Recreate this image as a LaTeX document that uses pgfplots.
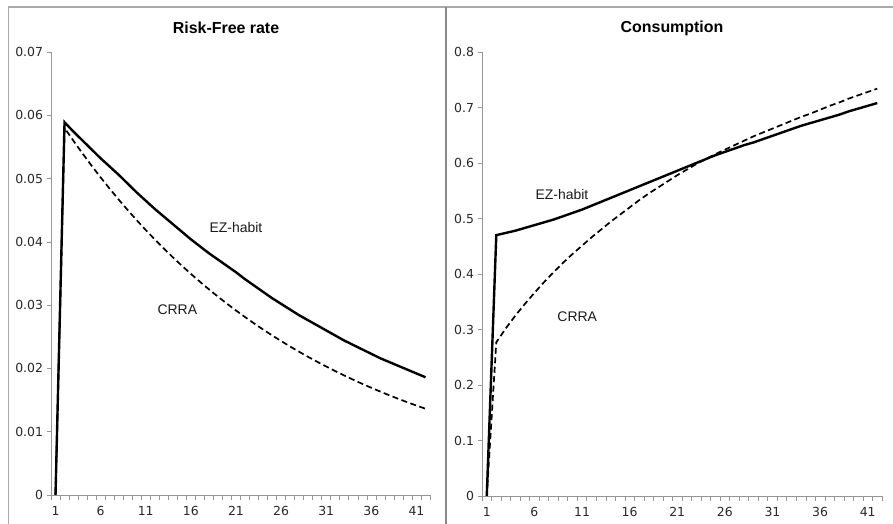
\documentclass[border=0pt]{standalone}
\usepackage{pgfplots}
\pgfplotsset{compat=1.18}
\usepackage{fontspec}
\setmainfont{Liberation Sans}
\newfontfamily\dejavu{DejaVu Sans}
\definecolor{axisgray}{RGB}{150,150,150}
\definecolor{framegray}{RGB}{170,170,170}
\definecolor{ticktext}{RGB}{40,40,40}

\pgfplotstableread{
t ez crra
1 0 0
2 0.0589 0.0580
3 0.0574 0.05594
4 0.0560 0.05395
5 0.0546 0.05203
6 0.0532 0.05018
7 0.0519 0.04840
8 0.0506 0.04668
9 0.0492 0.04502
10 0.0478 0.04342
11 0.0465 0.04187
12 0.0452 0.04038
13 0.0440 0.03895
14 0.0428 0.03756
15 0.0416 0.03623
16 0.0404 0.03494
17 0.0393 0.03370
18 0.0382 0.03250
19 0.0372 0.03134
20 0.0362 0.03023
21 0.0352 0.02915
22 0.0341 0.02812
23 0.0331 0.02712
24 0.0321 0.02615
25 0.0311 0.02522
26 0.0302 0.02433
27 0.0293 0.02346
28 0.0284 0.02263
29 0.0276 0.02182
30 0.0268 0.02105
31 0.0260 0.02030
32 0.0252 0.01958
33 0.0244 0.01888
34 0.0237 0.01821
35 0.0230 0.01756
36 0.0223 0.01694
37 0.0216 0.01633
38 0.0210 0.01575
39 0.0204 0.01519
40 0.0198 0.01465
41 0.0192 0.01413
42 0.0186 0.01363
}\rfdata

\pgfplotstableread{
t ez crra
1 0 0
2 0.470 0.277
3 0.474 0.302
4 0.478 0.325
5 0.483 0.346
6 0.488 0.366
7 0.493 0.385
8 0.498 0.403
9 0.504 0.420
10 0.510 0.436
11 0.516 0.451
12 0.523 0.466
13 0.530 0.480
14 0.537 0.494
15 0.544 0.507
16 0.551 0.520
17 0.558 0.533
18 0.565 0.545
19 0.572 0.556
20 0.579 0.567
21 0.586 0.578
22 0.593 0.588
23 0.600 0.598
24 0.607 0.607
25 0.614 0.616
26 0.620 0.624
27 0.626 0.632
28 0.632 0.640
29 0.637 0.648
30 0.643 0.655
31 0.649 0.662
32 0.655 0.669
33 0.661 0.676
34 0.667 0.683
35 0.672 0.689
36 0.677 0.696
37 0.682 0.703
38 0.687 0.709
39 0.693 0.716
40 0.698 0.722
41 0.703 0.728
42 0.708 0.734
}\consdata

\tikzset{
  ezline/.style={black, line width=2.4bp, line join=miter},
  crraline/.style={black, line width=1.7bp, dash pattern=on 6bp off 3.5bp},
  lab/.style={font=\fontsize{14}{16}\selectfont, text=black!90},
}

\pgfplotsset{
  panel/.style={
    scale only axis,
    anchor=south west,
    axis x line=bottom,
    axis y line=left,
    axis line style={-,draw=axisgray,line width=0.8bp},
    xmin=0.5, xmax=42.5,
    xtick={1,6,...,41},
    xticklabels={1,6,11,16,21,26,31,36,41},
    minor xtick={0.5,1.5,...,42.5},
    major x tick style={draw=none},
    minor x tick style={draw=axisgray,line width=0.6bp},
    minor tick length=5bp,
    ytick style={draw=axisgray,line width=0.6bp},
    major tick length=4.5bp,
    tick align=outside,
    xticklabel shift=3bp,
    scaled y ticks=false,
    scaled x ticks=false,
    ticklabel style={font=\dejavu\fontsize{12.5}{14}\selectfont, text=ticktext},
    clip=false,
  },
}

\begin{document}
\begin{tikzpicture}[x=1bp,y=1bp]
\path[use as bounding box] (0,0) rectangle (893,524);
% panel frames
\draw[framegray, line width=1.2bp] (8.5,0) -- (8.5,517) -- (893,517);
\draw[framegray!80!black, line width=1.8bp] (446,0) -- (446,517);
% titles
\node[font=\bfseries\fontsize{16}{18}\selectfont] at (226,496) {Risk-Free rate};
\node[font=\bfseries\fontsize{16}{18}\selectfont] at (672,496) {Consumption};

\begin{axis}[panel,
  at={(51bp,29bp)}, width=379bp, height=443bp,
  ymin=0, ymax=0.07,
  ytick={0,0.01,...,0.07},
  yticklabels={0,0.01,0.02,0.03,0.04,0.05,0.06,0.07},
]
\addplot[ezline] table[x=t,y=ez] {\rfdata};
\addplot[crraline] table[x=t,y=crra] {\rfdata};
\node[lab] at (axis cs:21,0.0422) {EZ-habit};
\node[lab] at (axis cs:14.5,0.0292) {CRRA};
\end{axis}

\begin{axis}[panel,
  at={(482bp,28bp)}, width=400bp, height=444bp,
  ymin=0, ymax=0.8,
  ytick={0,0.1,...,0.8},
  yticklabels={0,0.1,0.2,0.3,0.4,0.5,0.6,0.7,0.8},
]
\addplot[ezline] table[x=t,y=ez] {\consdata};
\addplot[crraline] table[x=t,y=crra] {\consdata};
\node[lab] at (axis cs:8.9,0.544) {EZ-habit};
\node[lab] at (axis cs:10.5,0.3225) {CRRA};
\end{axis}
\end{tikzpicture}
\end{document}
